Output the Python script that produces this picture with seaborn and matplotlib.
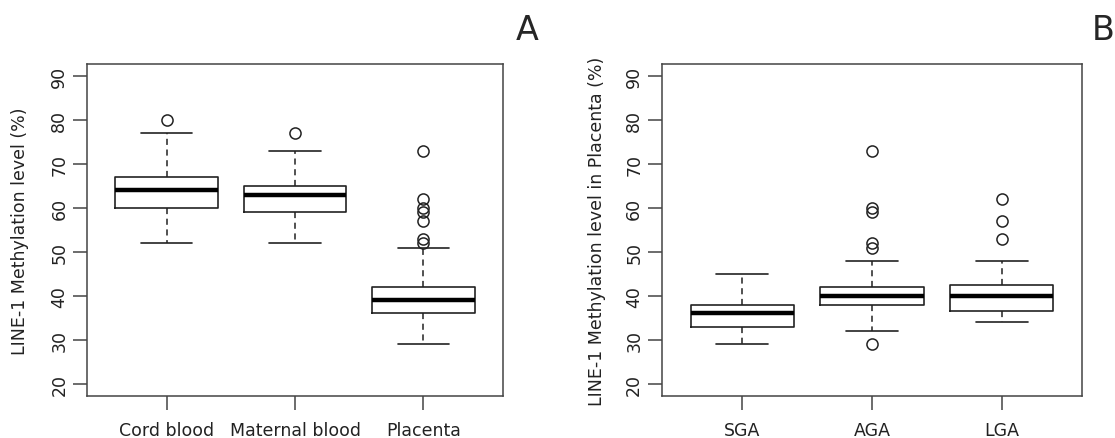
import matplotlib
matplotlib.use("Agg")
import matplotlib.pyplot as plt
import seaborn as sns

# Panel A: tissue groups (five-number summaries)
tissues = ["Cord blood", "Maternal blood", "Placenta"]
tissue_low = [52, 52, 29]
tissue_q1 = [60, 59, 36]
tissue_med = [64, 63, 39]
tissue_q3 = [67, 65, 42]
tissue_high = [77, 73, 51]
tissue_out = [[80], [77], [73, 62, 60, 59, 57, 53, 52]]

# Panel B: placenta by size for gestational age
sizes = ["SGA", "AGA", "LGA"]
size_low = [29, 32, 34]
size_q1 = [33, 38, 36.5]
size_med = [36, 40, 40]
size_q3 = [38, 42, 42.5]
size_high = [45, 48, 48]
size_out = [[], [73, 60, 59, 52, 51, 29], [62, 57, 53]]

yticks = [20, 30, 40, 50, 60, 70, 80, 90]

sns.set_style("white")
plt.rcParams["font.family"] = ["DejaVu Sans"]


def make_stats(labels, low, q1, med, q3, high, out):
    stats = []
    for i in range(len(labels)):
        stats.append({
            "label": labels[i],
            "whislo": low[i],
            "q1": q1[i],
            "med": med[i],
            "q3": q3[i],
            "whishi": high[i],
            "fliers": out[i],
        })
    return stats


def draw_panel(ax, stats, ylabel, pad):
    ax.bxp(
        stats,
        positions=[1, 2, 3],
        widths=0.8,
        capwidths=0.4,
        showfliers=True,
        boxprops=dict(color="#222222", linewidth=1.2),
        medianprops=dict(color="black", linewidth=3.2),
        whiskerprops=dict(color="#222222", linewidth=1.1, linestyle=(0, (4, 3))),
        capprops=dict(color="#222222", linewidth=1.2),
        flierprops=dict(marker="o", markerfacecolor="none",
                        markeredgecolor="#222222", markersize=8,
                        markeredgewidth=1.1),
    )
    ax.set_xlim(0.38, 3.62)
    ax.set_ylim(17.2, 92.8)
    ax.set_yticks(yticks)
    ax.set_yticklabels([str(t) for t in yticks], rotation=90, va="center")
    ax.set_ylabel(ylabel, fontsize=12.5, color="#222222", labelpad=pad)
    ax.tick_params(axis="both", length=10, width=1.1, color="#444444",
                   labelsize=12.5, labelcolor="#222222", direction="out",
                   left=True, bottom=True)
    ax.tick_params(axis="x", pad=8)
    for s in ax.spines.values():
        s.set_color("#444444")
        s.set_linewidth(1.1)


fig = plt.figure(figsize=(11.15, 4.39), dpi=100)
ax1 = fig.add_axes([87 / 1115, 42 / 439, 416 / 1115, 332 / 439])
ax2 = fig.add_axes([662 / 1115, 42 / 439, 420 / 1115, 332 / 439])

draw_panel(ax1, make_stats(tissues, tissue_low, tissue_q1, tissue_med,
                           tissue_q3, tissue_high, tissue_out),
           "LINE-1 Methylation level (%)", 15)
draw_panel(ax2, make_stats(sizes, size_low, size_q1, size_med,
                           size_q3, size_high, size_out),
           "LINE-1 Methylation level in Placenta (%)", 14)

fig.text(527 / 1115, 1 - 31 / 439, "A", fontsize=24, ha="center", va="center")
fig.text(1103 / 1115, 1 - 31 / 439, "B", fontsize=24, ha="center", va="center")

fig.savefig("out.png", dpi=100)
